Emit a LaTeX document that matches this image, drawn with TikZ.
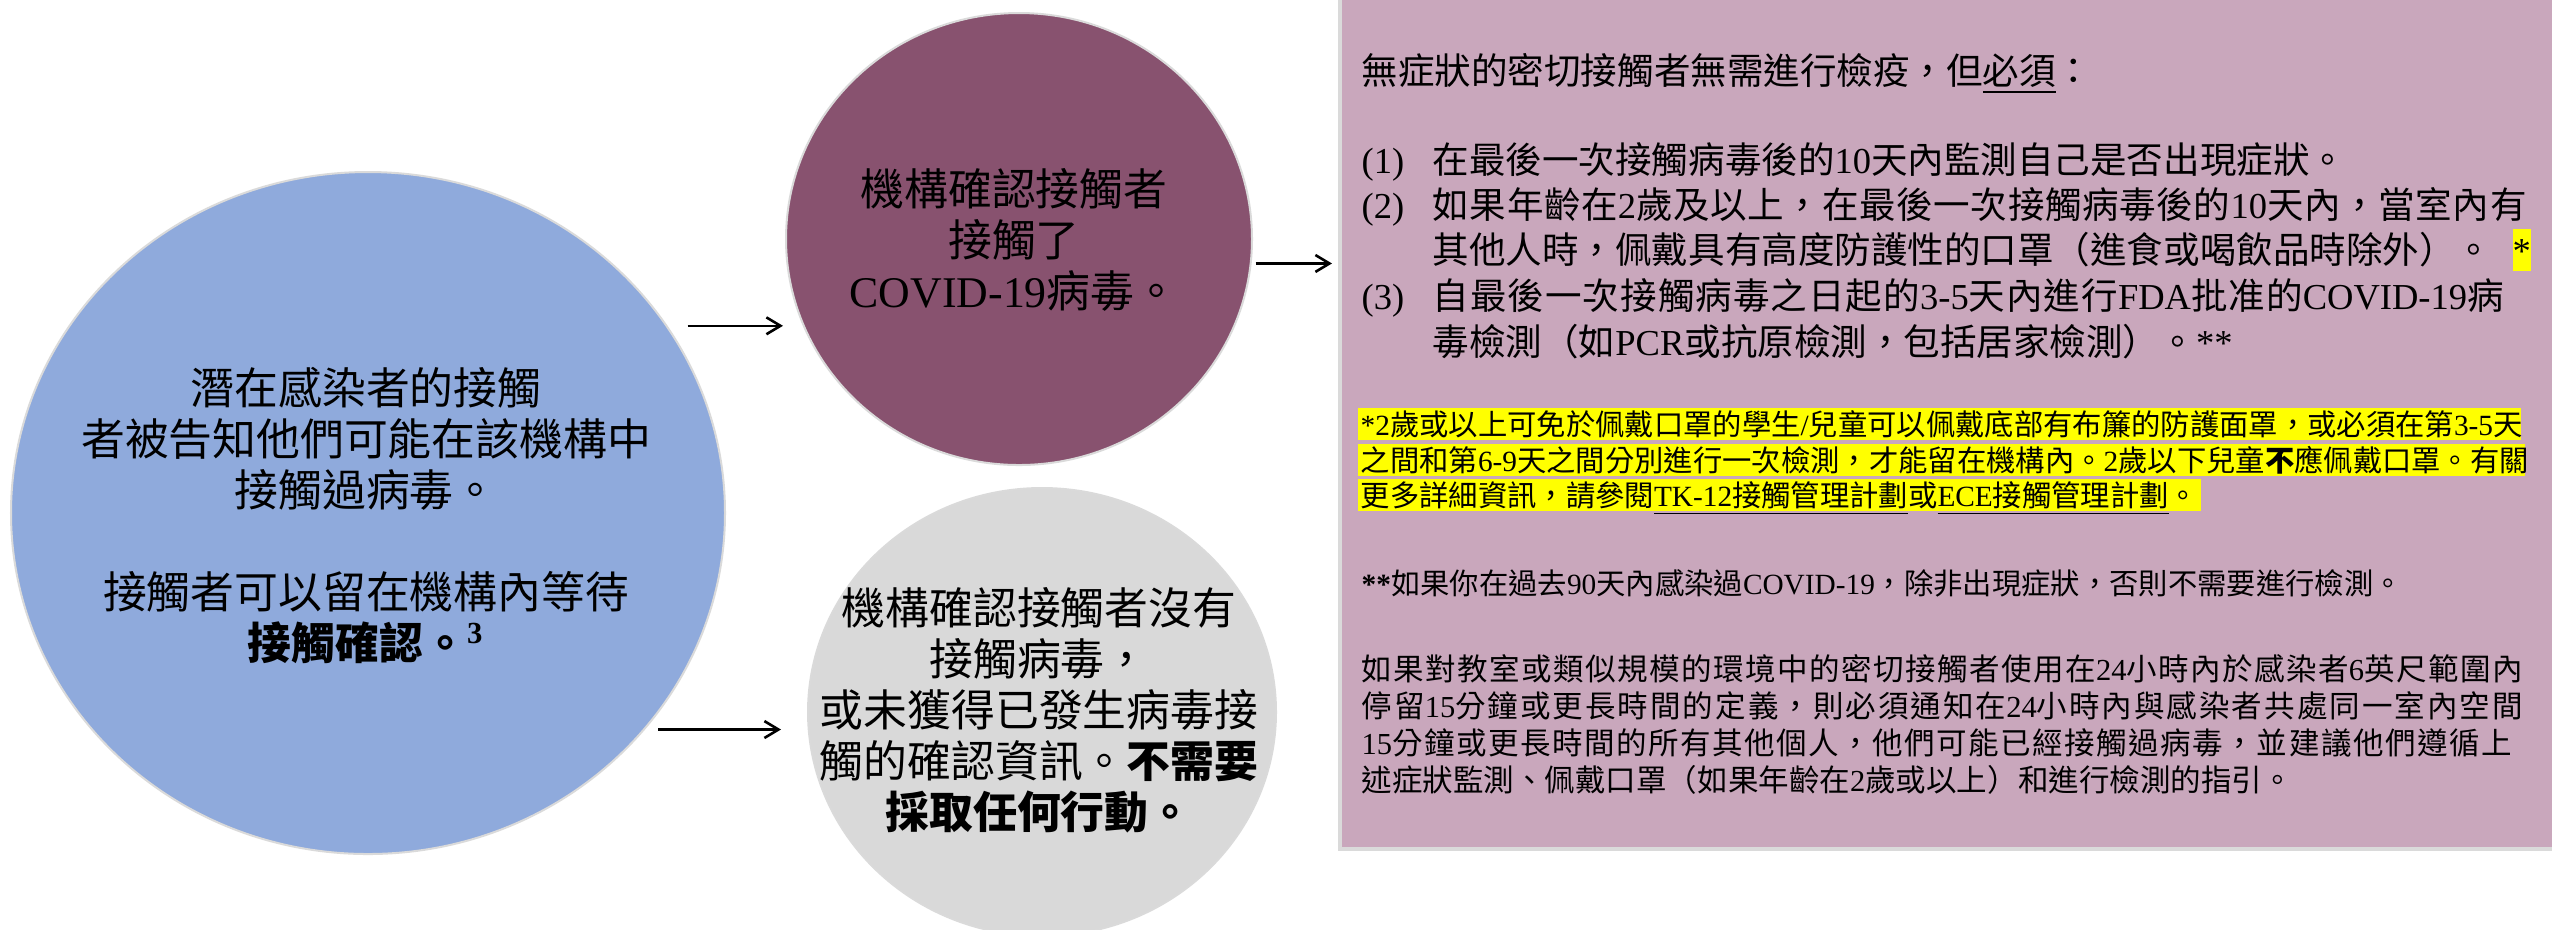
\documentclass[tikz,border=0pt]{standalone}
\usepackage{fontspec}
\setmainfont{Noto Sans CJK TC}
\newfontfamily\latfont{Liberation Serif}
\newcommand{\latn}[1]{{\latfont #1}}
\usetikzlibrary{shapes.geometric,arrows.meta,calc}
\newdimen\PX \PX=0.01cm
% stretchable glue between CJK characters (for justified lines)
\XeTeXinterchartokenstate=1
\newXeTeXintercharclass\CJKcls
\newcount\cjkc
\def\setcjkrange#1#2{\cjkc=#1\relax\loop\XeTeXcharclass\cjkc=\CJKcls\relax\ifnum\cjkc<#2\advance\cjkc by 1\repeat}
\setcjkrange{"3000}{"303F}
\setcjkrange{"4E00}{"9FFF}
\setcjkrange{"FF00}{"FFEF}
\newskip\cjkglue \cjkglue=0pt plus 1pt
\XeTeXinterchartoks\CJKcls\CJKcls={\hskip\cjkglue}
\XeTeXinterchartoks\CJKcls 0={\hskip\cjkglue}
\XeTeXinterchartoks 0\CJKcls={\hskip\cjkglue}
\newcommand{\jl}[2]{\makebox[#1\PX][s]{#2}}
\newcommand{\szmain}{\fontsize{10.39pt}{13.09pt}\selectfont}
\newcommand{\szhl}{\fontsize{8.34pt}{10pt}\selectfont}
\newcommand{\szpar}{\fontsize{8.68pt}{10.5pt}\selectfont}
\newcommand{\szbig}{\fontsize{12.46pt}{14.5pt}\selectfont}
\definecolor{cblue}{HTML}{8FAADC}
\definecolor{cpurple}{HTML}{88526F}
\definecolor{cgray}{HTML}{D9D9D9}
\definecolor{cpink}{HTML}{C9A7BC}
\definecolor{cborder}{HTML}{DADADA}
\definecolor{hl}{HTML}{FFFF00}
\begin{document}
\begin{tikzpicture}[x=0.01cm,y=-0.01cm,
  bubble/.style={ellipse, draw=cborder, line width=0.57pt, inner sep=0pt},
  arr/.style={-{Straight Barb[length=4pt,width=4.8pt]}, line width=0.74pt, black},
  bigtxt/.style={align=center, font=\szbig, inner sep=0pt},
  rt/.style={anchor=base west, inner sep=0pt, font=\szmain},
  ft/.style={anchor=base west, inner sep=0pt, font=\szpar},
  hlt/.style={anchor=base west, font=\szhl, fill=hl, inner xsep=3\PX, inner ysep=0pt, text height=27\PX, text depth=5\PX}]
\useasboundingbox (0,0) rectangle (2552,929);
\clip (0,0) rectangle (2552,929);

% shapes
\node[bubble, fill=cblue, minimum width=714\PX, minimum height=682\PX] (blue) at (368,513) {};
\node[bubble, fill=cpurple, minimum width=466\PX, minimum height=452\PX] (purple) at (1019,239) {};
\node[bubble, fill=cgray, minimum width=468\PX, minimum height=448\PX] (gray) at (1042,712) {};
\node[rectangle, draw=cborder, fill=cpink, line width=1.14pt, minimum width=1260\PX, minimum height=900\PX, inner sep=0pt] (box) at (1970,399) {};

% ellipse texts
\node[bigtxt] (bluetext) at (366,515) {潛在感染者的接觸\\者被告知他們可能在該機構中\\接觸過病毒。\\[51\PX]接觸者可以留在機構內等待\\\textbf{接觸確認。}\textsuperscript{\latn{\bfseries 3}}};
\node[bigtxt] (purpletext) at (1014,240) {機構確認接觸者\\接觸了\\\latn{COVID-19}病毒。};
\node[bigtxt] (graytext) at (1039,710) {機構確認接觸者沒有\\接觸病毒，\\或未獲得已發生病毒接\\觸的確認資訊。\textbf{不需要}\\\textbf{採取任何行動。}};

% connectors
\draw[arr] ($(blue.32)+(20,0)$) -- ($(blue.32 -| purple.west)+(-2,0)$);
\draw[arr] ($(blue.-38)+(13,0)$) -- ($(blue.-38 -| gray.west)+(-26,0)$);
\draw[arr] ($(purple.-6)+(4,0)$) -- ($(purple.-6 -| box.west)+(-6,0)$);

% right box texts
\node[rt] (t0) at (1361,84) {無症狀的密切接觸者無需進行檢疫，但\underline{必須}：};
\node[rt] (n1) at (1361,173) {\latn{(1)}};
\node[rt] (l1) at (1432,173) {在最後一次接觸病毒後的\latn{10}天內監測自己是否出現症狀。};
\node[rt] (n2) at (1361,218) {\latn{(2)}};
\node[rt] (l2) at (1432,218) {\jl{1094}{如果年齡在\latn{2}歲及以上，在最後一次接觸病毒後的\latn{10}天內，當室內有}};
\node[rt] (l2b) at (1432,263) {其他人時，佩戴具有高度防護性的口罩（進食或喝飲品時除外）。};
\node[rt, fill=hl, text height=34\PX, text depth=8\PX] (star) at (2512,263) {\latn{*}};
\node[rt] (n3) at (1361,309) {\latn{(3)}};
\node[rt] (l3) at (1432,309) {\jl{1071}{自最後一次接觸病毒之日起的\latn{3-5}天內進行\latn{FDA}批准的\latn{COVID-19}病}};
\node[rt] (l3b) at (1432,355) {毒檢測（如\latn{PCR}或抗原檢測，包括居家檢測）。\latn{**}};

\node[hlt] (f1) at (1357,435) {\jl{1157}{\latn{*2}歲或以上可免於佩戴口罩的學生\latn{/}兒童可以佩戴底部有布簾的防護面罩，或必須在第\latn{3-5}天}};
\node[hlt] (f2) at (1357,471) {\jl{1161}{之間和第\latn{6-9}天之間分別進行一次檢測，才能留在機構內。\latn{2}歲以下兒童\textbf{不}應佩戴口罩。有關}};
\node[hlt] (f3) at (1357,506) {更多詳細資訊，請參閱\underline{\latn{TK-12}接觸管理計劃}或\underline{\latn{ECE}接觸管理計劃}。};

\node[ft, font=\szhl] (f4) at (1361,594) {\latn{\bfseries **}如果你在過去\latn{90}天內感染過\latn{COVID-19}，除非出現症狀，否則不需要進行檢測。};
\node[ft] (p1) at (1361,680) {\jl{1161}{如果對教室或類似規模的環境中的密切接觸者使用在\latn{24}小時內於感染者\latn{6}英尺範圍內}};
\node[ft] (p2) at (1361,717) {\jl{1161}{停留\latn{15}分鐘或更長時間的定義，則必須通知在\latn{24}小時內與感染者共處同一室內空間}};
\node[ft] (p3) at (1361,754) {\jl{1150}{\latn{15}分鐘或更長時間的所有其他個人，他們可能已經接觸過病毒，並建議他們遵循上}};
\node[ft] (p4) at (1361,791) {述症狀監測、佩戴口罩（如果年齡在\latn{2}歲或以上）和進行檢測的指引。};
\end{tikzpicture}
\end{document}
